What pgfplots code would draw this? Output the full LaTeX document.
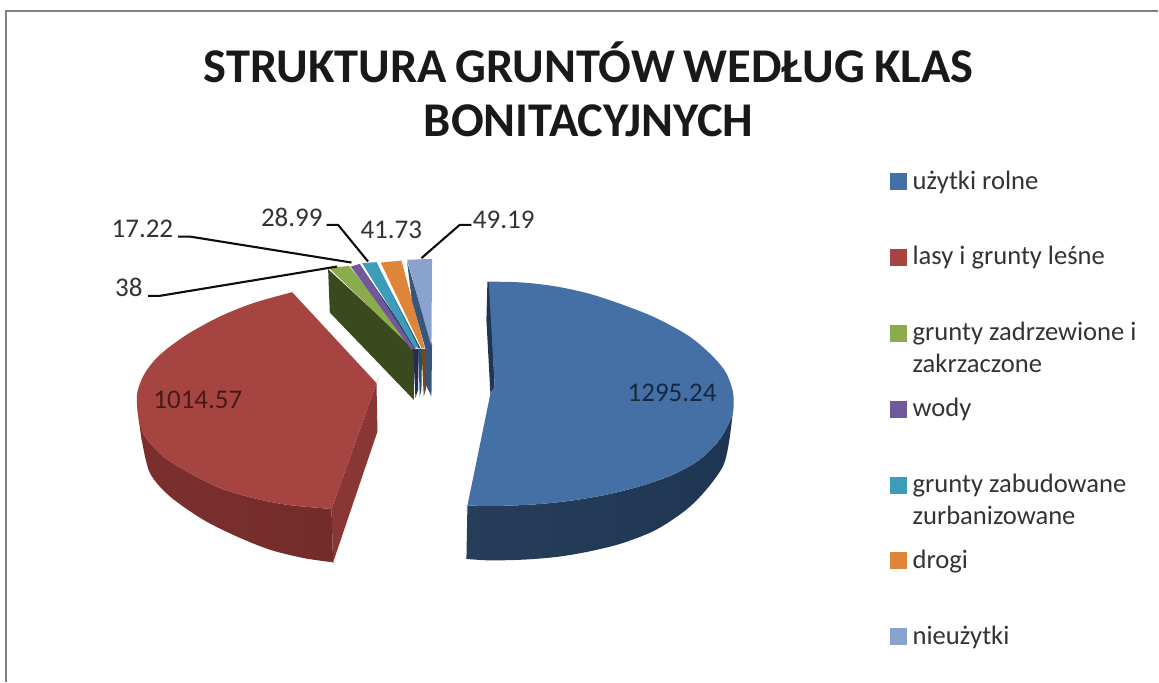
\documentclass[border=0pt]{standalone}
\usepackage{pgfplots}
\pgfplotsset{compat=1.18}
\usepackage{fontspec}
\setmainfont{Carlito}
\newfontfamily\titlefont[WordSpace=0.8]{Carlito}
\definecolor{cBlue}{HTML}{4470A6}
\definecolor{cBlueW}{HTML}{1E3653}
\definecolor{cRed}{HTML}{A64441}
\definecolor{cRedW}{HTML}{732C2B}
\definecolor{cRedS}{HTML}{8A3634}
\definecolor{cGreen}{HTML}{8BAB4C}
\definecolor{cGreenW}{HTML}{3B4A1E}
\definecolor{cPurple}{HTML}{71589A}
\definecolor{cPurpleW}{HTML}{2B2A55}
\definecolor{cTeal}{HTML}{3D9DB8}
\definecolor{cTealW}{HTML}{1F5566}
\definecolor{cOrange}{HTML}{DE853A}
\definecolor{cOrangeW}{HTML}{7A4420}
\definecolor{cLight}{HTML}{89A3CE}
\definecolor{cLightW}{HTML}{38557A}
\definecolor{cLine}{HTML}{0D0D0D}
\definecolor{cText}{HTML}{333333}
\begin{document}
\begin{tikzpicture}
\begin{axis}[
  scale only axis, width=1159pt, height=682pt,
  xmin=0, xmax=1159, ymin=0, ymax=682, y dir=reverse,
  axis lines=none, clip=false,
  every axis plot/.append style={forget plot},
]
% page extent and frame
\addplot[draw=none] coordinates {(0,0) (1159,682)};
\addplot[draw=black!50, line width=1.4pt] coordinates {(6,682) (6,11) (1159,11)};

% użytki rolne 1295.24
\addplot[draw=none, left color=cBlueW!96!white, right color=cBlueW, smooth, tension=0.5] coordinates {
(467.7,506) (467.7,506) (467.7,506) (506.7,506) (540,504.3) (573.3,500.7) (606.7,495) (640,486.7) (673.3,475) (700,460) (720,440) (731.7,418.3) (734,406.7) (734,406.7) (734,406.7)
(729.3,443.3) (723.3,466.7) (706.7,490) (686.7,510) (656.7,530) (623.3,543.3) (590,551.7) (556.7,557.3) (523.3,560) (490,560.7) (466.7,559.3) (466.7,559.3) (466.7,559.3)} -- cycle;
\addplot[fill=cBlueW, draw=none] coordinates {(487.7,281.7) (486.7,320) (490.7,394) (495,386.7) (490,283)} -- cycle;
\addplot[fill=cBlue, draw=none, smooth, tension=0.5] coordinates {
(489,281.7) (489,281.7) (489,281.7) (523.3,282.7) (556.7,286.7) (590,294) (623.3,305) (656.7,318.3) (690,336.7) (713.3,356.7) (726.7,373.3) (733.3,391.7) (734,406.7)
(731.7,418.3) (720,440) (700,460) (673.3,475) (640,486.7) (606.7,495) (573.3,500.7) (540,504.3) (506.7,506) (467.7,506) (467.7,506) (467.7,506)
(490.7,394) (490.7,394) (490.7,394) (495,386.7) (495,386.7) (495,386.7)} -- cycle;

% lasy i grunty leśne 1014.57
\addplot[fill=cRedS, draw=none] coordinates {(376.7,383.3) (377.7,431.7) (333.3,562.7) (331.7,509.3)} -- cycle;
\addplot[draw=none, left color=cRedW!85!cRed, right color=cRedW, smooth, tension=0.5] coordinates {
(138.3,416.7) (138.3,416.7) (138.3,416.7) (145,436.7) (163.3,456.7) (186.7,471.7) (220,488.3) (253.3,498.3) (286.7,505) (331.7,509.3) (331.7,509.3) (331.7,509.3)
(333.3,562.7) (333.3,562.7) (333.3,562.7) (303.3,558.3) (270,550) (236.7,536.7) (203.3,520) (170,496.7) (150,473.3) (141.7,440) (141.7,440) (141.7,440)} -- cycle;
\addplot[fill=cRed, draw=none, smooth, tension=0.5] coordinates {
(292.3,292.3) (292.3,292.3) (292.3,292.3) (253.3,303.3) (220,316.7) (186.7,335) (160,355) (145,373.3) (137.3,393.3) (138.3,416.7) (145,436.7) (163.3,456.7)
(186.7,471.7) (220,488.3) (253.3,498.3) (286.7,505) (331.7,509.3) (331.7,509.3) (331.7,509.3) (376.7,383.3) (376.7,383.3) (376.7,383.3)} -- cycle;

% grunty zadrzewione i zakrzaczone 38
\addplot[fill=cGreenW, draw=none] coordinates {(328.3,269.3) (330,312.7) (414,400) (414,348.3)} -- cycle;
\addplot[fill=cGreen, draw=none] coordinates {(329.3,268.3) (349.3,266) (413.5,347.5) (413,349)} -- cycle;
% wody 17.22
\addplot[fill=cPurpleW, draw=none] coordinates {(413.3,349) (419,349) (418.3,390) (415.7,398.3)} -- cycle;
\addplot[fill=cPurpleW, draw=none] coordinates {(360,265) (416.5,347) (414,349.5)} -- cycle;
\addplot[fill=cPurple, draw=none] coordinates {(351,266.7) (360,264) (414.3,348.3) (411.7,350)} -- cycle;
% grunty zabudowane zurbanizowane 28.99
\addplot[fill=cTealW, draw=none] coordinates {(418.3,349) (422.3,349) (421.7,390) (420,396.7)} -- cycle;
\addplot[fill=cTealW, draw=none] coordinates {(377,264) (421,349) (416,347)} -- cycle;
\addplot[fill=cTeal, draw=none] coordinates {(362.3,263.3) (376.7,262.3) (418.3,346.7) (415,348.3)} -- cycle;
% drogi 41.73
\addplot[fill=cOrangeW, draw=none] coordinates {(421.7,349) (426.7,349) (426,390) (424,396.7)} -- cycle;
\addplot[fill=cOrange, draw=none] coordinates {(381,262.7) (401.7,260.7) (425,348.3) (421.7,348.3)} -- cycle;
% nieużytki 49.19
\addplot[fill=cLightW, draw=none] coordinates {(407.3,261.7) (412,300) (426,350) (426,385) (431.7,396.7) (432.3,345)} -- cycle;
\addplot[fill=cLight, draw=none] coordinates {(407.3,260) (432.3,259) (431.7,346.7)} -- cycle;

% leader lines
\addplot[cLine, line width=2.1pt] coordinates {(178.3,236.7) (190,236.7) (351.7,262.7)};
\addplot[cLine, line width=2.1pt] coordinates {(148.3,296) (160,296) (337.3,266.7)};
\addplot[cLine, line width=2.1pt] coordinates {(326.7,225) (338.3,225) (368.3,261.7)};
\addplot[cLine, line width=2.1pt] coordinates {(471.7,225) (460,225) (421.7,258.3)};

% data labels
\newcommand{\lab}{\fontsize{27}{27}\selectfont}
\node[text=cText,anchor=center,font=\lab] at (axis cs:142.5,229) {17.22};
\node[text=cText,anchor=center,font=\lab] at (axis cs:129,288) {38};
\node[text=cText,anchor=center,font=\lab] at (axis cs:292,218) {28.99};
\node[text=cText,anchor=center,font=\lab] at (axis cs:391.5,230) {41.73};
\node[text=cText,anchor=center,font=\lab] at (axis cs:504,220) {49.19};
\node[text=cRedW!60!black,anchor=center,font=\lab] at (axis cs:198,400) {1014.57};
\node[text=cBlueW!75!black,anchor=center,font=\lab] at (axis cs:672.5,393) {1295.24};

% title
\node[anchor=center,font=\fontsize{48.5}{48.5}\selectfont\titlefont\bfseries,text=black!90] at (axis cs:589,62) {STRUKTURA GRUNTÓW WEDŁUG KLAS};
\node[anchor=center,font=\fontsize{48.5}{48.5}\selectfont\titlefont\bfseries,text=black!90] at (axis cs:589,121) {BONITACYJNYCH};

% legend
\addplot[color=cBlue, only marks, mark=square*, mark size=8pt] coordinates {(898.7,181.7)};
\addplot[color=cRed, only marks, mark=square*, mark size=8pt] coordinates {(898.7,257.3)};
\addplot[color=cGreen, only marks, mark=square*, mark size=8pt] coordinates {(898.7,333.3)};
\addplot[color=cPurple, only marks, mark=square*, mark size=8pt] coordinates {(898.7,409)};
\addplot[color=cTeal, only marks, mark=square*, mark size=8pt] coordinates {(898.7,485)};
\addplot[color=cOrange, only marks, mark=square*, mark size=8pt] coordinates {(898.7,560.7)};
\addplot[color=cLight, only marks, mark=square*, mark size=8pt] coordinates {(898.7,636.7)};
\newcommand{\leg}{\fontsize{26.6}{26.6}\selectfont}
\node[text=cText,anchor=base west,inner sep=0pt,font=\leg] at (axis cs:913,189.5) {użytki rolne};
\node[text=cText,anchor=base west,inner sep=0pt,font=\leg] at (axis cs:913,265) {lasy i grunty leśne};
\node[text=cText,anchor=base west,inner sep=0pt,font=\leg] at (axis cs:913,341) {grunty zadrzewione i};
\node[text=cText,anchor=base west,inner sep=0pt,font=\leg] at (axis cs:913,373) {zakrzaczone};
\node[text=cText,anchor=base west,inner sep=0pt,font=\leg] at (axis cs:913,417) {wody};
\node[text=cText,anchor=base west,inner sep=0pt,font=\leg] at (axis cs:913,493) {grunty zabudowane};
\node[text=cText,anchor=base west,inner sep=0pt,font=\leg] at (axis cs:913,524.5) {zurbanizowane};
\node[text=cText,anchor=base west,inner sep=0pt,font=\leg] at (axis cs:913,568.5) {drogi};
\node[text=cText,anchor=base west,inner sep=0pt,font=\leg] at (axis cs:913,644.5) {nieużytki};
\end{axis}
\end{tikzpicture}
\end{document}
